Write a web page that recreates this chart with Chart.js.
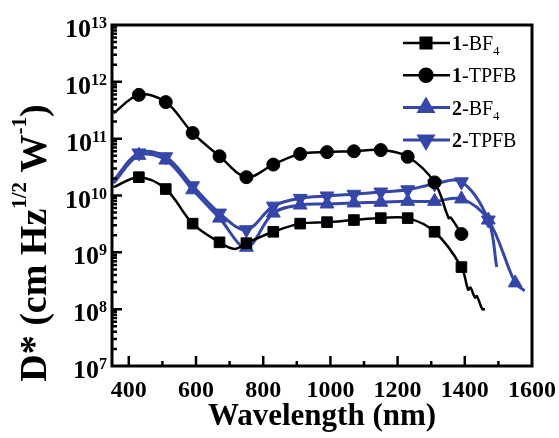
<!DOCTYPE html>
<html>
<head>
<meta charset="utf-8">
<script src="https://cdn.jsdelivr.net/npm/chart.js@4.4.0/dist/chart.umd.min.js"></script>
<style>html,body{margin:0;padding:0;background:#fff}</style>
</head>
<body>
<canvas id="chart" width="559" height="438"></canvas>
<script>
// wavelengths (nm) and detectivity D* (Jones)
const wl1BF4 = [355, 430, 510, 590, 670, 715, 750, 830, 910, 990, 1070, 1150, 1230, 1310, 1390, 1410, 1417, 1430, 1436, 1452, 1460];
const d1BF4 = [1.4e10, 2.1e10, 1.3e10, 3.2e9, 1.5e9, 1.15e9, 1.45e9, 2.3e9, 3.2e9, 3.4e9, 3.7e9, 4.0e9, 4.0e9, 2.3e9, 5.5e8, 2.2e8, 2.4e8, 1.6e8, 1.7e8, 1.0e8, 1.0e8];

const wl1TPFB = [355, 430, 510, 590, 670, 750, 830, 910, 990, 1070, 1150, 1230, 1310, 1352, 1358, 1390];
const d1TPFB = [2.8e11, 5.9e11, 4.4e11, 1.26e11, 4.9e10, 2.1e10, 3.5e10, 5.4e10, 5.8e10, 6.0e10, 6.3e10, 4.8e10, 1.7e10, 4.0e9, 4.1e9, 2.1e9];

const wl2BF4 = [355, 430, 510, 590, 670, 750, 830, 910, 990, 1070, 1150, 1230, 1310, 1390, 1470, 1550, 1578];
const d2BF4 = [1.66e10, 5.1e10, 4.2e10, 1.26e10, 4.0e9, 1.23e9, 4.9e9, 6.8e9, 7.1e9, 7.4e9, 7.6e9, 7.9e9, 7.9e9, 8.7e9, 3.7e9, 2.9e8, 2.1e8];

const wl2TPFB = [355, 430, 510, 590, 670, 750, 830, 910, 990, 1070, 1150, 1230, 1310, 1390, 1470, 1495];
const d2TPFB = [1.86e10, 5.6e10, 4.8e10, 1.48e10, 4.9e9, 2.5e9, 6.5e9, 8.9e9, 9.8e9, 1.05e10, 1.15e10, 1.26e10, 1.6e10, 1.74e10, 3.7e9, 5.5e8];

// symbols only sit on these wavelengths
const markerWl = [430, 510, 590, 670, 750, 830, 910, 990, 1070, 1150, 1230, 1310, 1390, 1470, 1550];

const xTicks = [400, 600, 800, 1000, 1200, 1400, 1600];
const yExps = [7, 8, 9, 10, 11, 12, 13];

const BLUE = '#3646a6';
const SERIF = '"Liberation Serif", "Times New Roman", serif';

function pts(wl, d) {
  return wl.map((w, i) => ({x: w, y: d[i]}));
}

function series(label, wl, d, color, style, rot, r, lw) {
  return {
    label: label,
    data: pts(wl, d),
    borderColor: color,
    backgroundColor: color,
    borderWidth: lw,
    tension: 0.35,
    pointStyle: style,
    rotation: rot,
    pointBorderWidth: 1,
    pointRadius: c => markerWl.includes(c.raw.x) ? r : 0,
    legendRadius: r
  };
}

const datasets = [
  series('1-BF4', wl1BF4, d1BF4, '#000', 'rect', 0, 7.5, 2.5),
  series('1-TPFB', wl1TPFB, d1TPFB, '#000', 'circle', 0, 6.5, 2.5),
  series('2-BF4', wl2BF4, d2BF4, BLUE, 'triangle', 0, 8, 3),
  series('2-TPFB', wl2TPFB, d2TPFB, BLUE, 'triangle', 180, 8, 3)
];

// draw a run of text pieces with different size / offset
function richText(ctx, parts, x, y, align) {
  let w = 0;
  parts.forEach(p => {
    ctx.font = (p.bold ? 'bold ' : '') + p.size + 'px ' + SERIF;
    p.w = ctx.measureText(p.t).width;
    w += p.w;
  });
  let cx = align === 'center' ? x - w / 2 : align === 'right' ? x - w : x;
  parts.forEach(p => {
    ctx.font = (p.bold ? 'bold ' : '') + p.size + 'px ' + SERIF;
    ctx.fillText(p.t, cx, y + (p.dy || 0));
    cx += p.w;
  });
}

const axesPlugin = {
  id: 'axesPlugin',
  afterDraw(chart) {
    const {ctx, chartArea: a} = chart;
    const x = chart.scales.x, y = chart.scales.y;
    ctx.save();
    ctx.strokeStyle = '#000';
    ctx.fillStyle = '#000';
    ctx.lineCap = 'butt';

    // inward ticks on bottom and left
    ctx.lineWidth = 2.5;
    ctx.beginPath();
    for (let v = 400; v < 1600; v += 100) {
      const px = x.getPixelForValue(v);
      const len = v % 200 === 0 ? 10 : 5;
      ctx.moveTo(px, a.bottom);
      ctx.lineTo(px, a.bottom - len);
    }
    for (let e = 7; e < 13; e++) {
      for (let m = 1; m < 10; m++) {
        if (e === 7 && m === 1) continue;
        const py = y.getPixelForValue(m * Math.pow(10, e));
        const len = m === 1 ? 10 : 5;
        ctx.moveTo(a.left, py);
        ctx.lineTo(a.left + len, py);
      }
    }
    ctx.stroke();

    ctx.lineWidth = 3;
    ctx.strokeRect(a.left, a.top, a.right - a.left, a.bottom - a.top);

    // tick labels
    ctx.textBaseline = 'alphabetic';
    ctx.textAlign = 'left';
    xTicks.forEach(v => {
      const px = x.getPixelForValue(v);
      richText(ctx, [{t: String(v), size: 24, bold: true}], px, a.bottom + 31, 'center');
    });
    yExps.forEach(e => {
      const py = y.getPixelForValue(Math.pow(10, e));
      richText(ctx, [
        {t: '10', size: 26, bold: true, dy: 0},
        {t: String(e), size: 16, bold: true, dy: -9}
      ], a.left - 5, py + 12, 'right');
    });

    // axis titles
    richText(ctx, [{t: 'Wavelength (nm)', size: 31, bold: true}], (a.left + a.right) / 2, 425, 'center');

    ctx.save();
    ctx.translate(46, 243);
    ctx.rotate(-Math.PI / 2);
    richText(ctx, [
      {t: 'D* (cm Hz', size: 38, bold: true},
      {t: '1/2', size: 21, bold: true, dy: -20},
      {t: ' W', size: 38, bold: true},
      {t: '-1', size: 21, bold: true, dy: -20},
      {t: ')', size: 38, bold: true}
    ], 0, 0, 'center');
    ctx.restore();

    // legend
    chart.data.datasets.forEach((ds, i) => {
      const ly = 43 + i * 32.3;
      ctx.strokeStyle = ds.borderColor;
      ctx.fillStyle = ds.borderColor;
      ctx.lineWidth = ds.borderWidth;
      ctx.beginPath();
      ctx.moveTo(403, ly);
      ctx.lineTo(450, ly);
      ctx.stroke();
      Chart.helpers.drawPoint(ctx, {
        pointStyle: ds.pointStyle, rotation: ds.rotation,
        radius: ds.legendRadius, borderWidth: 1
      }, 426, ly);
      ctx.fill();
      ctx.fillStyle = '#000';
      const m = ds.label.match(/^(\d)(-[A-Z]+?)(\d?)$/);
      const parts = [{t: m[1], size: 20, bold: true}, {t: m[2], size: 20}];
      if (m[3]) parts.push({t: m[3], size: 13, dy: 5});
      richText(ctx, parts, 452, ly + 7, 'left');
    });
    ctx.restore();
  }
};

new Chart(document.getElementById('chart'), {
  type: 'line',
  data: {datasets: datasets},
  options: {
    responsive: false,
    animation: false,
    layout: {padding: {left: 112, right: 27, top: 25, bottom: 72}},
    plugins: {legend: {display: false}, tooltip: {enabled: false}},
    scales: {
      x: {type: 'linear', min: 350, max: 1600, display: false},
      y: {type: 'logarithmic', min: 1e7, max: 1e13, display: false}
    }
  },
  plugins: [axesPlugin]
});
</script>
</body>
</html>
